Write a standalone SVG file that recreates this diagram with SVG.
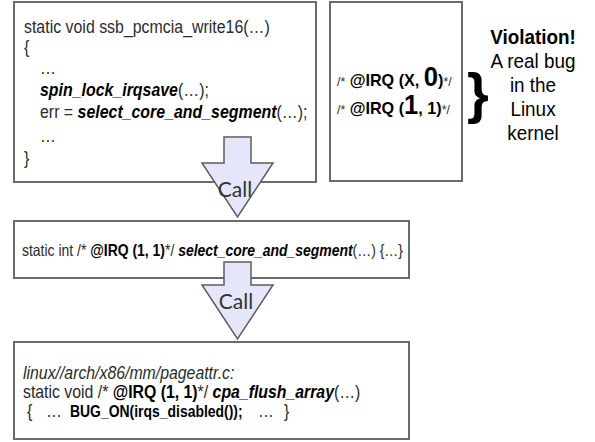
<svg xmlns="http://www.w3.org/2000/svg" width="595" height="442" viewBox="0 0 595 442">
  <style>
    .box { fill: #ffffff; stroke: #6b6b6b; stroke-width: 2; }
    .code { font-family: "Liberation Sans", Arial, sans-serif; fill: #2b2b2b; }
    .c1 { font-size: 18.5px; }
    .c2 { font-size: 17px; }
    .c3 { font-size: 16.5px; }
    .c4 { font-size: 18px; }
    .b { font-weight: bold; fill: #000000; }
    .bi { font-weight: bold; font-style: italic; fill: #000000; }
    .i { font-style: italic; }
    .sm { font-size: 13px; }
    .big { font-size: 27px; }
    .note { font-family: "Liberation Sans", Arial, sans-serif; font-size: 21px; fill: #000000; text-anchor: middle; }
    .arrow { fill: #e6e6fa; stroke: #5c5c5c; stroke-width: 1.5; stroke-linejoin: miter; }
    .call { font-family: Lato, "Open Sans", sans-serif; font-size: 21px; fill: #333333; text-anchor: middle; }
  </style>

  <!-- caller: ssb_pcmcia_write16 (narrowed code face) -->
  <g id="caller">
    <rect class="box" x="14" y="2" width="302" height="180"/>
    <text class="code c1" transform="translate(24,33) scale(0.86,1)">static void ssb_pcmcia_write16(…)</text>
    <text class="code c1" transform="translate(24,53) scale(0.86,1)">{</text>
    <text class="code c1" transform="translate(40,74) scale(0.86,1)">…</text>
    <text class="code c1" transform="translate(40,96) scale(0.86,1)"><tspan class="bi">spin_lock_irqsave</tspan>(…);</text>
    <text class="code c1" transform="translate(40,118) scale(0.86,1)">err = <tspan class="bi">select_core_and_segment</tspan>(…);</text>
    <text class="code c1" transform="translate(40,142) scale(0.86,1)">…</text>
    <text class="code c1" transform="translate(24,164) scale(0.86,1)">}</text>
  </g>

  <!-- IRQ state annotations -->
  <g id="annotations">
    <rect class="box" x="330" y="2" width="132" height="179"/>
    <text class="code c2" transform="translate(337,86) scale(0.95,1)"><tspan class="sm">/*</tspan><tspan class="b"> @IRQ (X, </tspan><tspan class="b big">0</tspan><tspan class="b">)</tspan><tspan class="sm">*/</tspan></text>
    <text class="code c2" transform="translate(337,114) scale(0.95,1)"><tspan class="sm">/*</tspan><tspan class="b"> @IRQ (</tspan><tspan class="b big">1</tspan><tspan class="b">, 1)</tspan><tspan class="sm">*/</tspan></text>
  </g>

  <!-- verdict -->
  <g id="verdict">
    <text x="467" y="112" font-family="Liberation Sans, Arial, sans-serif" font-size="56" font-weight="bold" fill="#000">}</text>
    <text class="note" transform="translate(533,44) scale(0.9,1)" font-weight="bold">Violation!</text>
    <text class="note" transform="translate(533,68) scale(0.9,1)">A real bug</text>
    <text class="note" transform="translate(533,92) scale(0.9,1)">in the</text>
    <text class="note" transform="translate(533,116) scale(0.9,1)">Linux</text>
    <text class="note" transform="translate(533,140) scale(0.9,1)">kernel</text>
  </g>

  <!-- callee: select_core_and_segment -->
  <g id="callee">
    <rect class="box" x="14" y="221" width="395" height="57"/>
    <text class="code c3" transform="translate(22,256) scale(0.846,1)">static int /* <tspan class="b">@IRQ (1, 1)</tspan>*/ <tspan class="bi">select_core_and_segment</tspan>(…) {…}</text>
  </g>

  <!-- leaf: cpa_flush_array -->
  <g id="leaf">
    <rect class="box" x="14" y="342" width="395" height="97"/>
    <text class="code c4 i" transform="translate(23,379) scale(0.88,1)">linux//arch/x86/mm/pageattr.c:</text>
    <text class="code c4" transform="translate(23,398) scale(0.88,1)">static void /* <tspan class="b">@IRQ (1, 1)</tspan>*/ <tspan class="bi">cpa_flush_array</tspan>(…)</text>
    <text class="code c4" transform="translate(27,417) scale(0.88,1)">{</text>
    <text class="code c4" transform="translate(46,417) scale(0.88,1)">…</text>
    <text class="code b" font-size="17" transform="translate(70,417) scale(0.82,1)">BUG_ON(irqs_disabled());</text>
    <text class="code c4" transform="translate(258,417) scale(0.88,1)">…</text>
    <text class="code c4" transform="translate(284,417) scale(0.88,1)">}</text>
  </g>

  <!-- call arrows -->
  <g id="connectors">
    <path class="arrow" d="M224,137 H251 V163 H273 L237.5,217 L202,163 H224 Z"/>
    <text class="call" x="235" y="197">Call</text>
    <path class="arrow" d="M224,262 H251 V285 H273 L237.5,339 L202,285 H224 Z"/>
    <text class="call" x="236" y="309">Call</text>
  </g>
</svg>
